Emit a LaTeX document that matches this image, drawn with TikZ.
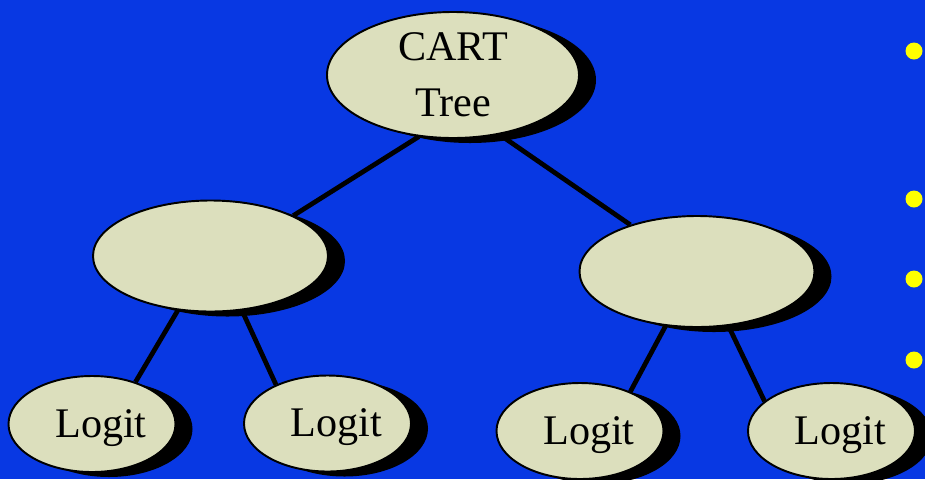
\documentclass[tikz,border=0pt]{standalone}
\usepackage{fontspec}
\setmainfont{Liberation Serif}
\usetikzlibrary{shapes, positioning, shadows}
\definecolor{slideblue}{RGB}{8,56,227}
\definecolor{pale}{RGB}{220,223,189}
\definecolor{dot}{RGB}{255,255,0}

\begin{document}
\begin{tikzpicture}[on grid,
		oval/.style={ellipse, draw, line width=1.1pt, fill=pale, inner sep=0pt,
			drop shadow={shadow xshift=0.34cm, shadow yshift=-0.1cm, fill=black, opacity=1},
			font=\fontsize{24}{32}\selectfont, align=center},
		split/.style={oval, minimum width=4.7cm, minimum height=2.22cm},
		leaf/.style={oval, minimum width=3.34cm, minimum height=1.92cm,
			text height=16pt, text depth=1pt,
			execute at begin node={\hspace*{0.36cm}}}]
			\fill[slideblue] (0,0) rectangle (18.5,-9.58);
			\node[oval, minimum width=5.04cm, minimum height=2.52cm] (a) at (9.06,-1.5) {CART\\Tree};
			\node[below left =3.62cm and 4.85cm of a, split] (b) {};
				\node[below right=3.93cm and 4.88cm of a, split] (c) {};
				\node[below left =3.36cm and 2.37cm of b, leaf] (d) {Logit};
				\node[below right=3.35cm and 2.34cm of b, leaf] (e) {Logit};
				\node[below left =3.19cm and 2.34cm of c, leaf] (f) {Logit};
				\node[below right=3.19cm and 2.69cm of c, leaf] (g) {Logit};
			\foreach \from/\to in {a.241/b.26,a.308/c.145,b.239/d.44,b.300/e.143,c.240/f.38,c.300/g.156}
				\draw[line width=2.7pt] (\from) -- (\to);
			\foreach \i/\y in {1/-1.02,2/-3.98,3/-5.58,4/-7.2}
				\node[circle, fill=dot, minimum size=0.34cm, inner sep=0pt] (p\i) at (18.28,\y) {};
		\end{tikzpicture}
\end{document}
